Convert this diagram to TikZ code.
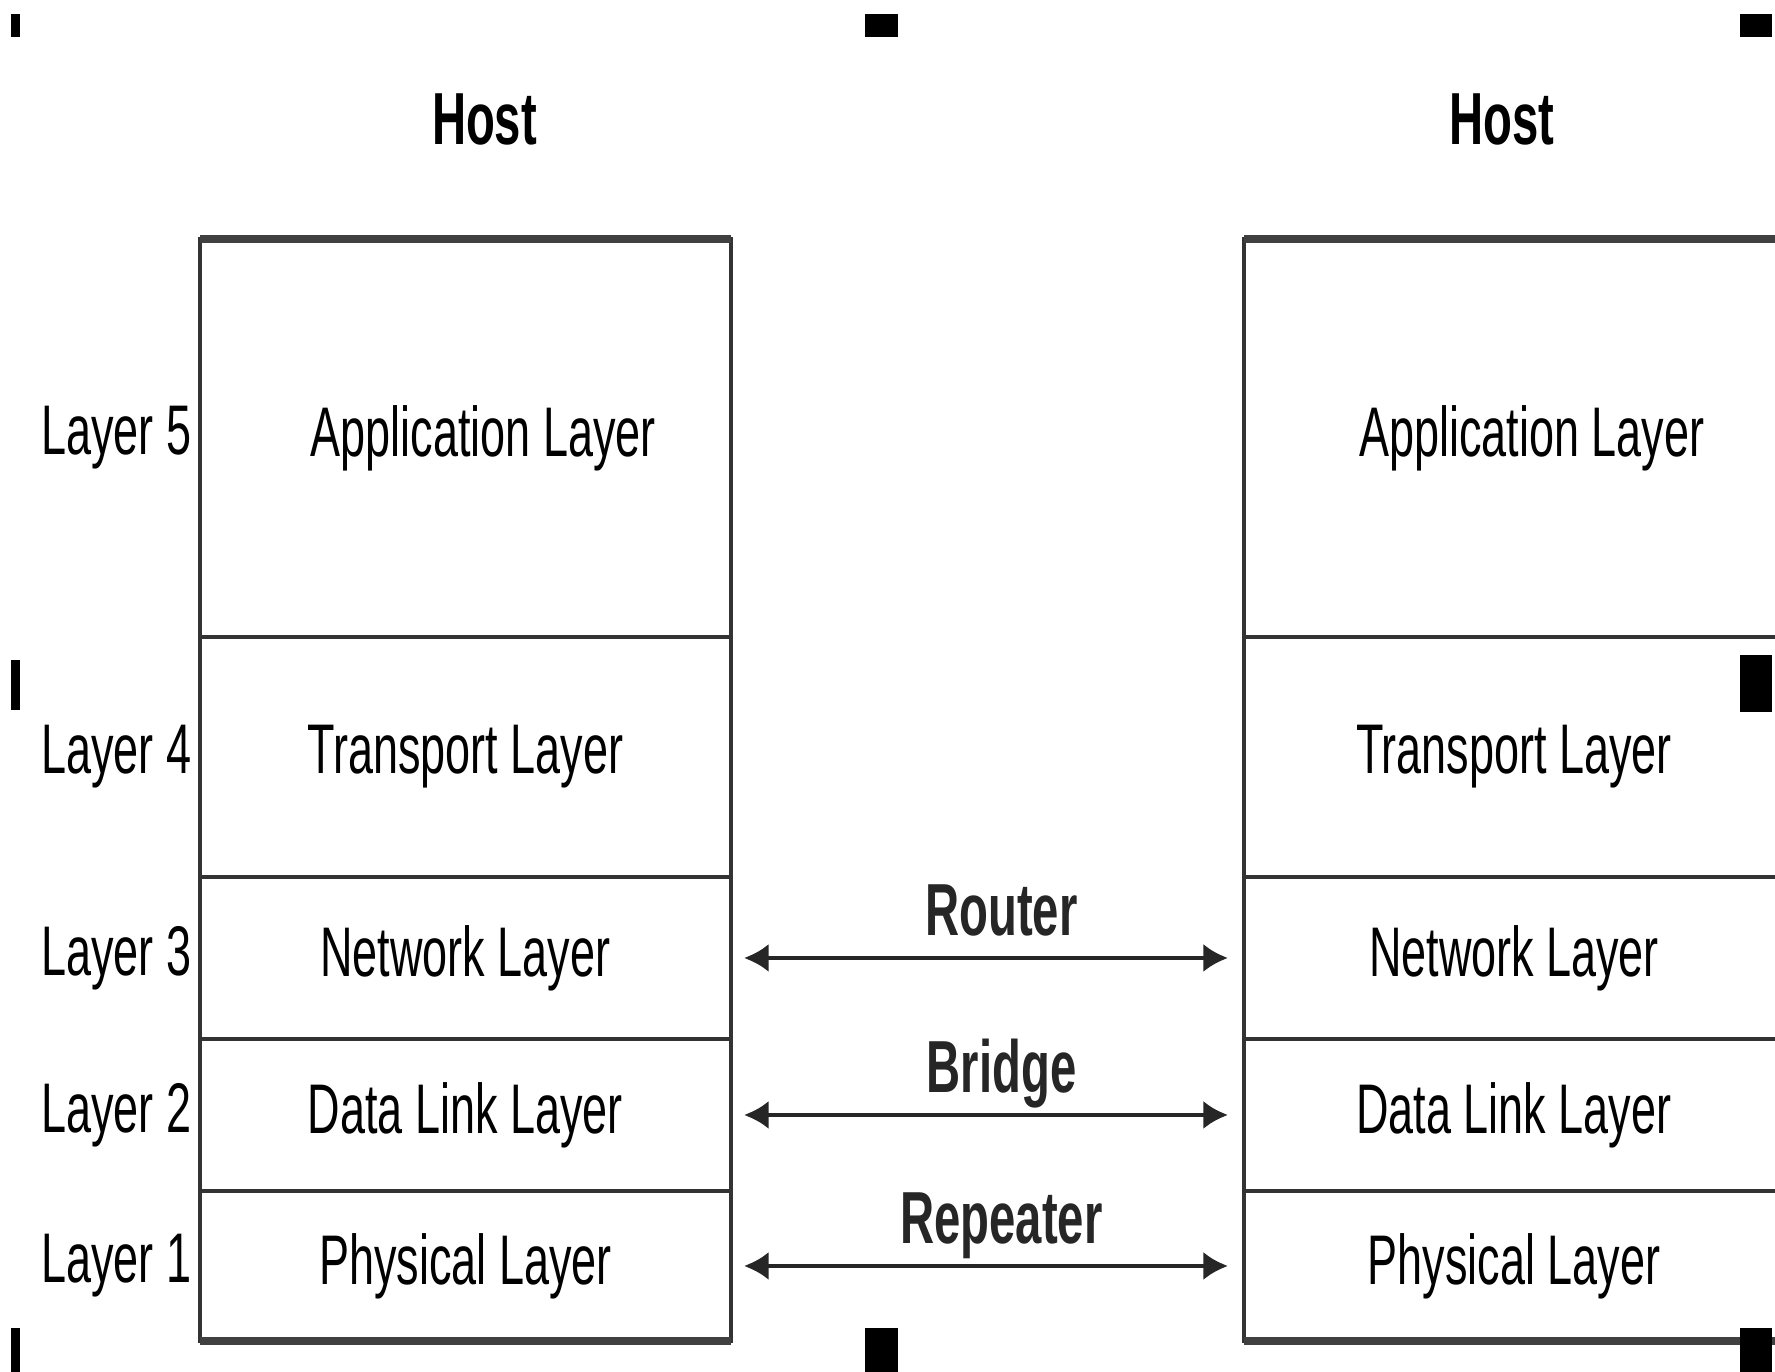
\documentclass[tikz,border=0pt]{standalone}
\usepackage{fontspec}
\setmainfont[FakeStretch=0.64]{Liberation Sans}
\usepackage{tikz}
\usetikzlibrary{calc, positioning, arrows.meta}

\begin{document}
\begin{tikzpicture}[>={Latex[length=7pt,width=8pt]},
    cell/.style={draw=black!80, line width=1.1pt, inner sep=0pt, outer sep=0pt,
        font=\fontsize{20}{24}\selectfont},
    lbl/.style={inner sep=0pt, font=\fontsize{20}{24}\selectfont},
    devlbl/.style={inner sep=0pt, font=\bfseries\fontsize{21}{25}\selectfont},
    link/.style={<->, line width=1.2pt, black!85, shorten <=0.13cm, shorten >=0.16cm}]
    % Khung trang
    \clip (0,0) rectangle (17.75,13.72);
    \fill[white] (0,0) rectangle (17.75,13.72);

    % Hai chong tang
    \foreach \s/\xa/\w in {L/2.00/5.31, R/12.44/5.40} {
        \node[cell, minimum width=\w cm, minimum height=3.98cm, anchor=north west] (app\s) at (\xa,11.33) {\hspace*{0.36cm}Application Layer};
        \node[cell, minimum width=\w cm, minimum height=2.40cm, below=0pt of app\s] (tra\s) {Transport Layer};
        \node[cell, minimum width=\w cm, minimum height=1.62cm, below=0pt of tra\s] (net\s) {Network Layer};
        \node[cell, minimum width=\w cm, minimum height=1.52cm, below=0pt of net\s] (dl\s) {Data Link Layer};
        \node[cell, minimum width=\w cm, minimum height=1.50cm, below=0pt of dl\s] (phy\s) {Physical Layer};
        \draw[line width=2.2pt, black!75] (app\s.north west) -- (app\s.north east);
        \draw[line width=2.2pt, black!75] (phy\s.south west) -- (phy\s.south east);
    }

    % Tieu de
    \node[devlbl, above=0.93cm of appL, xshift=0.19cm] (hostL) {Host};
    \node[devlbl, above=0.93cm of appR, xshift=-0.12cm] (hostR) {Host};

    % Ten cac tang
    \foreach \c/\n in {app/5, tra/4, net/3, dl/2, phy/1} {
        \node[lbl, left=0.08cm of \c L] (lay\n) {Layer \n};
    }

    % Thiet bi noi hai ben
    \foreach \c/\dev in {net/Router, dl/Bridge, phy/Repeater} {
        \draw[link] (\c L) -- (\c R)
            node[devlbl, midway, anchor=base, yshift=0.22cm, xshift=0.14cm] (dev\c) {\dev};
    }

    % Dau cat
    \fill (0.11,13.58) rectangle (0.20,13.35);
    \fill (8.65,13.58) rectangle (8.98,13.35);
    \fill (17.40,13.58) rectangle (17.72,13.35);
    \fill (0.11,7.12) rectangle (0.20,6.62);
    \fill (17.40,7.17) rectangle (17.72,6.60);
    \fill (0.11,0.44) rectangle (0.20,0);
    \fill (8.65,0.44) rectangle (8.98,0);
    \fill (17.40,0.44) rectangle (17.72,0);

\end{tikzpicture}
\end{document}
